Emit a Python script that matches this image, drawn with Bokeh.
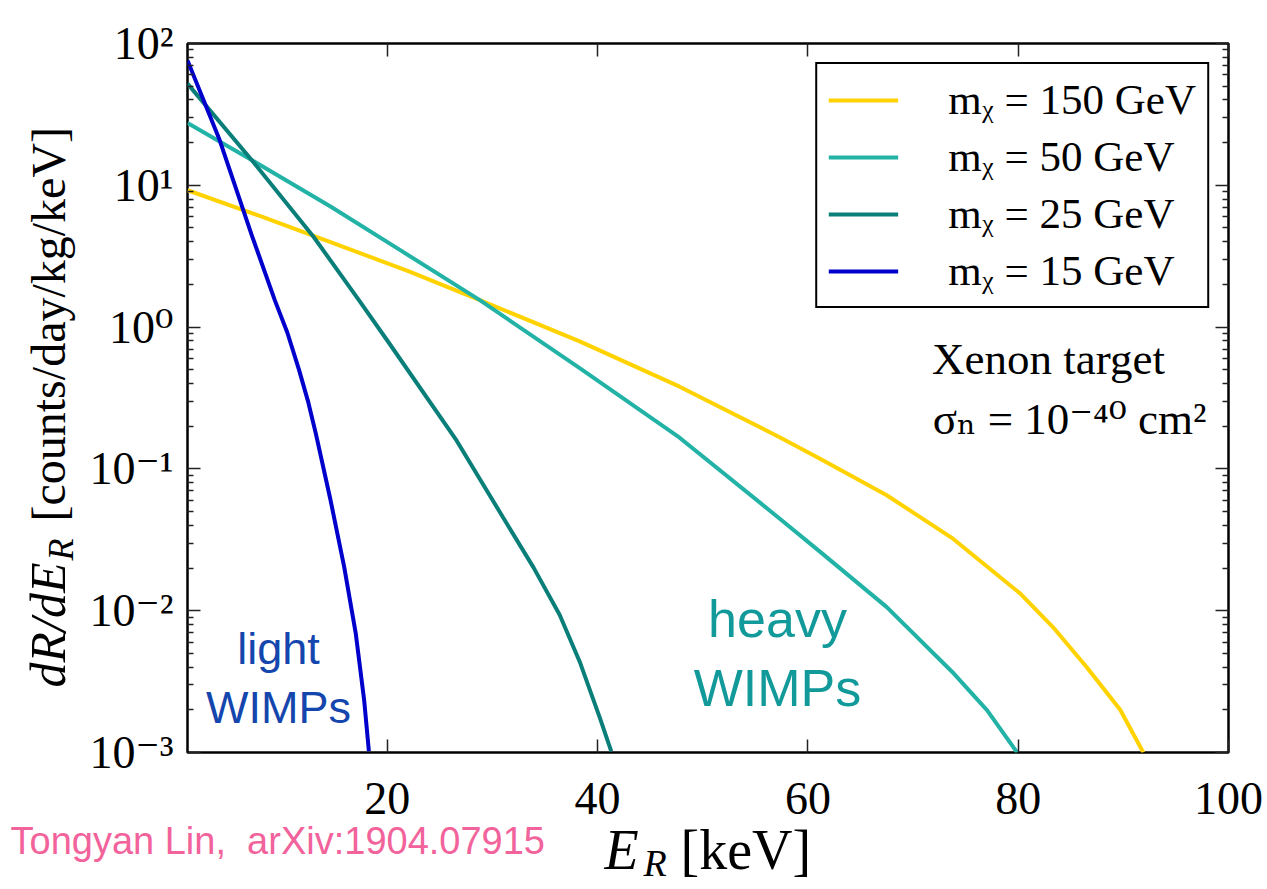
import math

from bokeh.embed import file_html
from bokeh.models import (FixedTicker, Label, Legend, LegendItem, LinearAxis,
                          Range1d, Title)
from bokeh.plotting import figure
from bokeh.resources import INLINE

# ---------------------------------------------------------------------------
# Recoil spectra dR/dE_R on a xenon target, sigma_n = 1e-40 cm^2
# ---------------------------------------------------------------------------
energy_150 = [1.0, 8.0, 14.6, 22.0, 28.8, 38.3, 47.8, 57.4, 61.2, 67.5,
              73.8, 80.2, 83.3, 86.5, 89.7, 91.9]
rate_150 = [9.23, 6.03, 3.98, 2.48, 1.55, 0.794, 0.380, 0.166, 0.1175,
            0.0652, 0.0322, 0.0132, 0.00767, 0.00401, 0.00200, 0.00100]

energy_50 = [1.0, 7.1, 14.6, 21.5, 28.8, 38.3, 47.8, 57.3, 61.2, 67.5,
             73.9, 77.05, 79.9]
rate_50 = [27.5, 15.1, 7.08, 3.39, 1.55, 0.513, 0.166, 0.0447, 0.0259,
           0.0106, 0.00359, 0.00198, 0.00100]

energy_25 = [1.0, 7.1, 13.0, 17.3, 20.1, 26.6, 31.0, 33.9, 36.4, 38.3,
             40.2, 41.3]
rate_25 = [52.1, 15.1, 4.32, 1.55, 0.785, 0.158, 0.0456, 0.0202, 0.00933,
           0.00437, 0.00177, 0.00102]

energy_15 = [1.0, 4.0, 7.1, 9.3, 10.5, 11.6, 12.45, 13.2, 14.6, 15.9, 17.0,
             17.8, 18.25]
rate_15 = [75.9, 21.4, 4.47, 1.55, 0.912, 0.501, 0.302, 0.178, 0.0603,
           0.0204, 0.00692, 0.00234, 0.00102]

series_labels = ["mᵪ = 150 GeV", "mᵪ = 50 GeV", "mᵪ = 25 GeV", "mᵪ = 15 GeV"]
series_colors = ["#FFD200", "#22B3A6", "#0A7F7A", "#0000CC"]

x_ticks = [20, 40, 60, 80, 100]
y_ticks = [1e-3, 1e-2, 1e-1, 1e0, 1e1, 1e2]
y_tick_labels = ["10⁻³", "10⁻²", "10⁻¹", "10⁰", "10¹", "10²"]
y_minor_ticks = [m * 10.0 ** k for k in range(-3, 2) for m in range(2, 10)]

credit = "Tongyan Lin,\u00a0 arXiv:1904.07915"

# ---------------------------------------------------------------------------
# Page and frame geometry (pixels)
# ---------------------------------------------------------------------------
W, H = 1267, 889
FRAME_L, FRAME_R, FRAME_T, FRAME_B = 187, 1228, 43, 752
X_LO, X_HI = 1.0, 100.0
Y_LO, Y_HI = 1e-3, 1e2

SERIF = "Liberation Serif, DejaVu Serif"
SANS = "Liberation Sans, DejaVu Sans"

# approximate font metrics (fractions of the font size)
ASCENT = {SERIF: 0.891, SANS: 0.905}
HEIGHT = {SERIF: 1.107, SANS: 1.117}

# depth of the tick-label bands in the bottom and left panels
X_TICK_STANDOFF, X_TICK_BAND = 30, 38
Y_TICK_STANDOFF, Y_TICK_BAND = 14, 89


def data_x(px):
    return X_LO + (px - FRAME_L) / (FRAME_R - FRAME_L) * (X_HI - X_LO)


def data_y(py):
    lo, hi = math.log10(Y_LO), math.log10(Y_HI)
    return 10 ** (hi - (py - FRAME_T) / (FRAME_B - FRAME_T) * (hi - lo))


p = figure(width=W, height=H, y_axis_type="log",
           x_range=Range1d(X_LO, X_HI), y_range=Range1d(Y_LO, Y_HI),
           output_backend="svg", toolbar_location=None,
           min_border_left=FRAME_L, min_border_right=W - FRAME_R,
           min_border_top=FRAME_T, min_border_bottom=H - FRAME_B)

p.background_fill_color = "white"
p.border_fill_color = "white"
p.outline_line_color = "black"
p.outline_line_width = 2.5
p.xgrid.visible = False
p.ygrid.visible = False

# ---- axes: ticks drawn inward on all four sides ---------------------------
x_ticker = FixedTicker(ticks=x_ticks, minor_ticks=[])
y_ticker = FixedTicker(ticks=y_ticks, minor_ticks=y_minor_ticks)


def style_axis(ax, ticker, labels=True):
    ax.ticker = ticker
    ax.axis_line_color = None
    ax.major_tick_in = 13
    ax.major_tick_out = 0
    ax.minor_tick_in = 6
    ax.minor_tick_out = 0
    ax.major_tick_line_color = "#222222"
    ax.minor_tick_line_color = "#222222"
    ax.major_tick_line_width = 1.5
    ax.minor_tick_line_width = 1.3
    if labels:
        ax.major_label_text_font = SERIF
        ax.major_label_text_font_size = "46px"
        ax.major_label_text_color = "black"
    else:
        ax.major_label_text_color = None
        ax.major_label_standoff = 0


xaxis = p.xaxis[0]
style_axis(xaxis, x_ticker)
xaxis.major_label_standoff = X_TICK_STANDOFF

yaxis = p.yaxis[0]
style_axis(yaxis, y_ticker)
yaxis.major_label_standoff = Y_TICK_STANDOFF
yaxis.major_label_overrides = dict(zip(y_ticks, y_tick_labels))

top_axis = LinearAxis()
style_axis(top_axis, x_ticker, labels=False)
p.add_layout(top_axis, "above")

right_axis = LinearAxis()
style_axis(right_axis, y_ticker, labels=False)
p.add_layout(right_axis, "right")

# ---- axis titles, set piece by piece (italic symbols, upright units) ------
# Titles stack outward from the frame.  A title's band is 2 + h + standoff
# deep (never less than 0) and its text top sits standoff/2 past the band's
# inner (below) or outer (left) edge, so each standoff is solved for the
# wanted spot and the stacking edge is moved on by the resulting band.


def below_titles(pieces):
    edge = FRAME_B + X_TICK_STANDOFF + X_TICK_BAND
    for text, size, font, style, color, left, baseline in pieces:
        top = baseline - ASCENT[font] * size
        h = HEIGHT[font] * size
        s = 2 * (top - edge)
        p.add_layout(Title(text=text, align="left", vertical_align="top",
                           offset=left - FRAME_L, standoff=s,
                           text_font=font, text_font_size=f"{size}px",
                           text_font_style=style, text_color=color), "below")
        edge += max(0.0, 2 + h + s)


def left_titles(pieces):
    edge = FRAME_L - Y_TICK_STANDOFF - Y_TICK_BAND
    for text, size, font, style, color, start, baseline in pieces:
        top = baseline - ASCENT[font] * size
        h = HEIGHT[font] * size
        s = 2 * (top - edge)               # band of zero depth
        if 2 + h + s > 0:                  # band of positive depth
            s = 2 * (edge - 2 - h - top)
        p.add_layout(Title(text=text, align="left", vertical_align="top",
                           offset=FRAME_B - start, standoff=s,
                           text_font=font, text_font_size=f"{size}px",
                           text_font_style=style, text_color=color), "left")
        edge -= max(0.0, 2 + h + s)


# (text, size, font, style, colour, left/start px, baseline px)
below_titles([
    (credit, 38, SANS, "normal", "#F2639B", 10, 858),
    ("E", 56, SERIF, "italic", "black", 604, 873),
    ("[keV]", 56, SERIF, "normal", "black", 680, 873),
    ("R", 38, SERIF, "italic", "black", 643, 880),
])

left_titles([
    ("dR/dE", 50, SERIF, "italic", "black", 687, 62),
    ("[counts/day/kg/keV]", 48, SERIF, "normal", "black", 521, 62),
    ("R", 36, SERIF, "italic", "black", 560, 71),
])

# ---- spectra ---------------------------------------------------------------
series = [(energy_150, rate_150), (energy_50, rate_50),
          (energy_25, rate_25), (energy_15, rate_15)]
renderers = []
for (e, r), c in zip(series, series_colors):
    renderers.append(p.line(e, r, line_color=c, line_width=4))

legend = Legend(
    items=[LegendItem(label=lab, renderers=[ren])
           for lab, ren in zip(series_labels, renderers)],
    location="top_right",
    label_text_font=SERIF, label_text_font_size="43px",
    label_text_color="black",
    glyph_width=70, glyph_height=40, label_height=40,
    label_standoff=50, padding=11, spacing=8, margin=19,
    border_line_color="black", border_line_width=2, border_line_alpha=1,
    background_fill_color="white", background_fill_alpha=1,
)
p.add_layout(legend)

# ---- text annotations inside the frame -------------------------------------


def add_text(px, py, text, size, font=SERIF, color="black", align="left"):
    p.add_layout(Label(x=data_x(px), y=data_y(py), text=text,
                       text_font=font, text_font_size=size,
                       text_color=color, text_align=align,
                       text_baseline="alphabetic"))


add_text(1048, 358, "Xenon target", "45px", align="center")
add_text(1206, 418, "σₙ = 10⁻⁴⁰ cm²", "45px", align="right")

add_text(278, 648, "light", "45px", font=SANS, color="#1446AD", align="center")
add_text(278, 707, "WIMPs", "45px", font=SANS, color="#1446AD", align="center")
add_text(777, 618, "heavy", "52px", font=SANS, color="#12999A", align="center")
add_text(777, 687, "WIMPs", "52px", font=SANS, color="#12999A", align="center")

open("out.html", "w").write(file_html(p, INLINE))
